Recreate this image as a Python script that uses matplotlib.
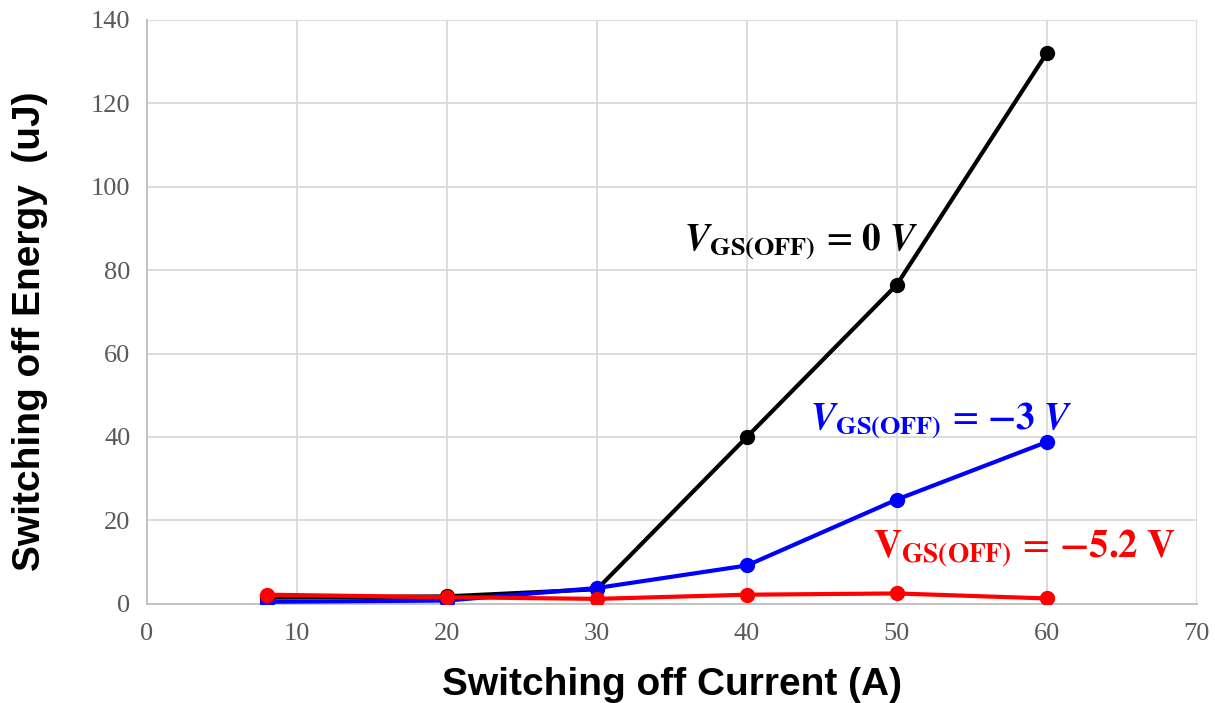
import matplotlib.pyplot as plt

plt.rcParams['mathtext.fontset'] = 'stix'

current = [8, 20, 30, 40, 50, 60]
e_0v = [1.5, 1.8, 3.5, 40, 76.5, 132]
e_3v = [0.5, 0.8, 3.8, 9.2, 25, 38.8]
e_52v = [2.2, 1.6, 1.2, 2.2, 2.5, 1.3]

fig = plt.figure(figsize=(12.15, 7.03), dpi=100)
ax = fig.add_axes([0.121, 0.141, 0.864, 0.831])

ax.plot(current, e_0v, color='black', linewidth=3, marker='o', markersize=10, zorder=3)
ax.plot(current, e_3v, color='#0000ff', linewidth=3, marker='o', markersize=10, zorder=4)
ax.plot(current, e_52v, color='#ff0000', linewidth=3, marker='o', markersize=10, zorder=5)

ax.text(35.8, 87, r'$\mathbfit{V}_{\mathbf{GS(OFF)}}\,=\,\mathbf{0}\ \mathbfit{V}$',
        color='black', fontsize=27, va='center', ha='left')
ax.text(44.2, 44, r'$\mathbfit{V}_{\mathbf{GS(OFF)}}\,=\,\mathbf{-3}\ \mathbfit{V}$',
        color='#0000ff', fontsize=27, va='center', ha='left')
ax.text(48.4, 13.4, r'$\mathbf{V}_{\mathbf{GS(OFF)}}\,=\,\mathbf{-5.2\ V}$',
        color='#ff0000', fontsize=28, va='center', ha='left')

ax.set_xlim(0, 70)
ax.set_ylim(0, 140)
ax.set_xticks(range(0, 71, 10))
ax.set_yticks(range(0, 141, 20))
ax.grid(True, color='#d9d9d9', linewidth=1.3)
ax.set_axisbelow(True)
ax.tick_params(length=0, labelsize=19, labelcolor='#595959')
ax.tick_params(axis='x', pad=14)
ax.tick_params(axis='y', pad=12)
for lab in ax.get_xticklabels() + ax.get_yticklabels():
    lab.set_family('Liberation Serif')
for s in ['top', 'right']:
    ax.spines[s].set_visible(False)
for s in ['left', 'bottom']:
    ax.spines[s].set_color('#bfbfbf')
    ax.spines[s].set_linewidth(1.3)

ax.set_xlabel('Switching off Current (A)', fontsize=28, fontweight='bold',
              family='Liberation Sans', va='center')
ax.set_ylabel('Switching off Energy  (uJ)', fontsize=28, fontweight='bold',
              family='Liberation Sans', va='center')
ax.xaxis.set_label_coords(0.5, -0.139)
ax.yaxis.set_label_coords(-0.111, 0.467)

fig.savefig('out.png', dpi=100)
